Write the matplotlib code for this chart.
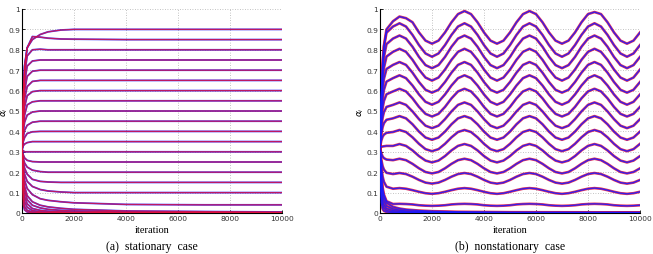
import matplotlib
matplotlib.use("Agg")
import matplotlib.pyplot as plt

# ---------------- panel (a): stationary case ----------------
t_a = [0, 50, 100, 200, 400, 700, 1000, 1500, 2000, 4000, 7000, 10000]
stat_curves = [
    [.31, .58, .72, .81, .85, .875, .888, .897, .90, .90, .90, .90],
    [.31, .58, .72, .81, .865, .862, .857, .853, .852, .85, .85, .85],
    [.31, .55, .68, .77, .80, .803, .80, .80, .80, .80, .80, .80],
    [.31, .52, .64, .72, .745, .75, .75, .75, .75, .75, .75, .75],
    [.31, .49, .60, .67, .695, .70, .70, .70, .70, .70, .70, .70],
    [.31, .46, .56, .62, .645, .65, .65, .65, .65, .65, .65, .65],
    [.31, .44, .52, .575, .595, .60, .60, .60, .60, .60, .60, .60],
    [.31, .42, .48, .53, .545, .55, .55, .55, .55, .55, .55, .55],
    [.31, .40, .445, .48, .495, .50, .50, .50, .50, .50, .50, .50],
    [.31, .37, .405, .43, .445, .45, .45, .45, .45, .45, .45, .45],
    [.31, .35, .37, .39, .398, .40, .40, .40, .40, .40, .40, .40],
    [.31, .33, .338, .345, .35, .35, .35, .35, .35, .35, .35, .35],
    [.31, .305, .30, .30, .30, .30, .30, .30, .30, .30, .30, .30],
    [.31, .285, .27, .258, .252, .25, .25, .25, .25, .25, .25, .25],
    [.31, .27, .245, .225, .21, .203, .20, .20, .20, .20, .20, .20],
    [.31, .25, .22, .19, .165, .155, .152, .15, .15, .15, .15, .15],
    [.31, .23, .19, .155, .13, .115, .108, .103, .10, .10, .10, .10],
    [.31, .20, .16, .12, .09, .07, .062, .055, .05, .042, .04, .04],
    [.31, .18, .13, .085, .055, .038, .03, .023, .018, .01, .007, .005],
    [.31, .16, .11, .065, .038, .025, .018, .013, .01, .005, .003, .002],
    [.31, .13, .08, .045, .022, .013, .009, .006, .004, .002, .001, .001],
    [.31, .10, .055, .028, .012, .006, .004, .003, .002, .001, 0, 0],
    [.31, .07, .032, .013, .005, .002, .001, 0, 0, 0, 0, 0],
    [.31, .04, .015, .005, .001, 0, 0, 0, 0, 0, 0, 0],
]

# ---------------- panel (b): nonstationary case ----------------
t_b = [0, 50, 100, 150, 250] + list(range(500, 10001, 250))
nonstat_curves = [
    [.32, .56, .72, .82, .90, .94, .963, .955, .935, .885, .845, .83, .845, .885, .935, .975, .99, .975, .935, .885, .845, .83, .845, .885, .935, .975, .99, .975, .935, .885, .845, .83, .845, .885, .935, .975, .985, .975, .935, .885, .845, .83, .845, .885],
    [.32, .587, .736, .813, .884, .914, .930, .914, .873, .823, .782, .766, .782, .823, .873, .914, .930, .914, .873, .823, .782, .766, .782, .823, .873, .914, .930, .914, .873, .823, .782, .766, .782, .823, .873, .914, .930, .914, .873, .823, .782, .766, .782, .823],
    [.32, .561, .695, .764, .828, .855, .87, .855, .815, .765, .725, .71, .725, .765, .815, .855, .87, .855, .815, .765, .725, .71, .725, .765, .815, .855, .87, .855, .815, .765, .725, .71, .725, .765, .815, .855, .87, .855, .815, .765, .725, .71, .725, .765],
    [.32, .532, .649, .710, .767, .790, .805, .790, .751, .703, .664, .649, .664, .703, .751, .790, .805, .790, .751, .703, .664, .649, .664, .703, .751, .790, .805, .790, .751, .703, .664, .649, .664, .703, .751, .790, .805, .790, .751, .703, .664, .649, .664, .703],
    [.32, .503, .604, .657, .706, .726, .740, .726, .688, .642, .604, .590, .604, .642, .688, .726, .740, .726, .688, .642, .604, .590, .604, .642, .688, .726, .740, .726, .688, .642, .604, .590, .604, .642, .688, .726, .740, .726, .688, .642, .604, .590, .604, .642],
    [.32, .473, .559, .603, .644, .661, .675, .661, .625, .581, .545, .531, .545, .581, .625, .661, .675, .661, .625, .581, .545, .531, .545, .581, .625, .661, .675, .661, .625, .581, .545, .531, .545, .581, .625, .661, .675, .661, .625, .581, .545, .531, .545, .581],
    [.32, .444, .513, .549, .582, .596, .609, .596, .562, .520, .486, .473, .486, .520, .562, .596, .609, .596, .562, .520, .486, .473, .486, .520, .562, .596, .609, .596, .562, .520, .486, .473, .486, .520, .562, .596, .609, .596, .562, .520, .486, .473, .486, .520],
    [.32, .415, .467, .494, .520, .530, .542, .530, .498, .460, .428, .416, .428, .460, .498, .530, .542, .530, .498, .460, .428, .416, .428, .460, .498, .530, .542, .530, .498, .460, .428, .416, .428, .460, .498, .530, .542, .530, .498, .460, .428, .416, .428, .460],
    [.32, .385, .421, .440, .457, .464, .475, .464, .435, .399, .370, .359, .370, .399, .435, .464, .475, .464, .435, .399, .370, .359, .370, .399, .435, .464, .475, .464, .435, .399, .370, .359, .370, .399, .435, .464, .475, .464, .435, .399, .370, .359, .370, .399],
    [.32, .355, .374, .384, .393, .397, .407, .397, .371, .339, .313, .303, .313, .339, .371, .397, .407, .397, .371, .339, .313, .303, .313, .339, .371, .397, .407, .397, .371, .339, .313, .303, .313, .339, .371, .397, .407, .397, .371, .339, .313, .303, .313, .339],
    [.32, .324, .326, .327, .329, .329, .338, .329, .307, .279, .257, .248, .257, .279, .307, .329, .338, .329, .307, .279, .257, .248, .257, .279, .307, .329, .338, .329, .307, .279, .257, .248, .257, .279, .307, .329, .338, .329, .307, .279, .257, .248, .257, .279],
    [.32, .293, .277, .269, .262, .259, .266, .259, .241, .219, .201, .194, .201, .219, .241, .259, .266, .259, .241, .219, .201, .194, .201, .219, .241, .259, .266, .259, .241, .219, .201, .194, .201, .219, .241, .259, .266, .259, .241, .219, .201, .194, .201, .219],
    [.32, .262, .230, .213, .197, .191, .196, .191, .178, .162, .149, .144, .149, .162, .178, .191, .196, .191, .178, .162, .149, .144, .149, .162, .178, .191, .196, .191, .178, .162, .149, .144, .149, .162, .178, .191, .196, .191, .178, .162, .149, .144, .149, .162],
    [.32, .230, .179, .153, .129, .119, .122, .119, .112, .104, .097, .094, .097, .104, .112, .119, .122, .119, .112, .104, .097, .094, .097, .104, .112, .119, .122, .119, .112, .104, .097, .094, .097, .104, .112, .119, .122, .119, .112, .104, .097, .094, .097, .104],
    [.32, .196, .127, .091, .058, .044, .045, .044, .042, .038, .036, .035, .036, .038, .042, .044, .045, .044, .042, .038, .036, .035, .036, .038, .042, .044, .045, .044, .042, .038, .036, .035, .036, .038, .042, .044, .045, .044, .042, .038, .036, .035, .036, .038],
]
t_dec = [0, 50, 100, 150, 250, 500, 750, 1000, 1500, 2000, 3000, 5000, 10000]
decay_curves = [
    [.32, .17, .11, .08, .05, .03, .022, .017, .012, .009, .006, .004, .003],
    [.32, .14, .085, .06, .035, .02, .014, .01, .007, .005, .003, .002, .002],
    [.32, .11, .06, .04, .022, .012, .008, .006, .004, .003, .002, .001, .001],
    [.32, .08, .04, .025, .012, .006, .004, .003, .002, .001, .001, 0, 0],
    [.32, .05, .02, .01, .005, .002, .001, .001, 0, 0, 0, 0, 0],
]

xticks = [0, 2000, 4000, 6000, 8000, 10000]
yticks = [0, 0.1, 0.2, 0.3, 0.4, 0.5, 0.6, 0.7, 0.8, 0.9, 1]
ytick_labels = ["0", "0.1", "0.2", "0.3", "0.4", "0.5", "0.6", "0.7", "0.8", "0.9", "1"]
captions = ["(a)  stationary  case", "(b)  nonstationary  case"]

BLUE = "#1a1aff"
RED = "#e0103c"
SERIF = ["Liberation Serif", "DejaVu Serif"]

fig = plt.figure(figsize=(6.53, 2.55), dpi=100)
W, H = 653, 255
ax_a = fig.add_axes([22 / W, 1 - 214 / H, 260 / W, 204 / H])
ax_b = fig.add_axes([380 / W, 1 - 214 / H, 260 / W, 204 / H])

# panel a: red dominant
for c in stat_curves:
    ax_a.plot(t_a, c, color=BLUE, lw=1.3, alpha=0.85, zorder=2)
    ax_a.plot(t_a, c, color=RED, lw=0.9, alpha=0.8, zorder=3)

# panel b: blue/purple dominant
for c in nonstat_curves:
    ax_b.plot(t_b, c, color=RED, lw=1.9, alpha=0.85, zorder=2)
    ax_b.plot(t_b, c, color=BLUE, lw=1.0, alpha=0.85, zorder=3)
for c in decay_curves:
    ax_b.plot(t_dec, c, color=RED, lw=1.9, alpha=0.85, zorder=2)
    ax_b.plot(t_dec, c, color=BLUE, lw=1.0, alpha=0.85, zorder=3)

for ax, cap, ylx in zip([ax_a, ax_b], captions, [-0.068, -0.074]):
    ax.set_xlim(0, 10000)
    ax.set_ylim(0, 1)
    ax.set_xticks(xticks)
    ax.set_xticklabels([str(v) for v in xticks])
    ax.set_yticks(yticks)
    ax.set_yticklabels(ytick_labels)
    ax.grid(True, linestyle=(0, (1, 2)), color="#b0b0b0", linewidth=0.6)
    ax.set_axisbelow(True)
    for s in ["top", "right"]:
        ax.spines[s].set_visible(False)
    for s in ["left", "bottom"]:
        ax.spines[s].set_linewidth(0.8)
    ax.tick_params(direction="in", length=2, width=0.6, labelsize=5.4,
                   labelcolor="#333333", pad=1.5)
    ax.set_xlabel("iteration", fontsize=7.5, family=SERIF, labelpad=2.5)
    ax.set_ylabel(r"$\alpha_i$", fontsize=6.5, va="center", ha="center",
                  rotation_mode="anchor")
    ax.yaxis.set_label_coords(ylx, 0.5)
    ax.text(0.5, -0.16, cap, transform=ax.transAxes, ha="center",
            va="center", fontsize=8.5, family=SERIF)

fig.savefig("out.png", dpi=100)
